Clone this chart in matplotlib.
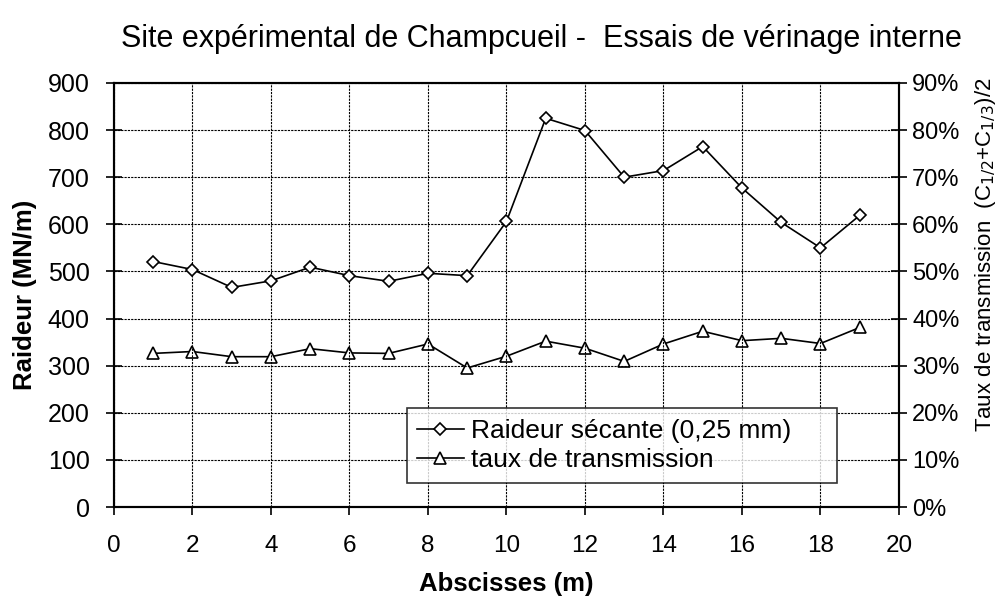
import matplotlib.pyplot as plt
from matplotlib.ticker import MultipleLocator, PercentFormatter

plt.rcParams['font.family'] = ['Liberation Sans', 'DejaVu Sans']

# Abscisses des points de mesure (m)
abscisses = [1, 2, 3, 4, 5, 6, 7, 8, 9, 10, 11, 12, 13, 14, 15, 16, 17, 18, 19]
# Raideur sécante à 0,25 mm (MN/m)
raideur = [521, 504, 466, 480, 509, 491, 479, 496, 491, 606,
           825, 799, 700, 714, 765, 677, 604, 550, 619]
# Taux de transmission (C1/2 + C1/3)/2, en %
transmission = [32.6, 33.0, 31.9, 31.9, 33.6, 32.7, 32.6, 34.6, 29.5, 32.0,
                35.2, 33.7, 30.9, 34.6, 37.3, 35.3, 35.8, 34.7, 38.1]

fig = plt.figure(figsize=(9.97, 6.01), dpi=100)
ax = fig.add_axes([0.1143, 0.1564, 0.7874, 0.7056])
ax2 = ax.twinx()

grid_style = dict(color='black', linestyle=(0, (2, 1)), linewidth=0.8)

l1, = ax.plot(abscisses, raideur, color='black', linewidth=1.2, marker='D',
              markersize=6.5, markerfacecolor='white', markeredgecolor='black',
              markeredgewidth=1.2, label='Raideur sécante (0,25 mm)', zorder=3)
l2, = ax2.plot(abscisses, transmission, color='black', linewidth=1.2, marker='^',
               markersize=9, markerfacecolor='white', markeredgecolor='black',
               markeredgewidth=1.2, label='taux de transmission', zorder=3)

ax.set_xlim(0, 20)
ax.set_ylim(0, 900)
ax2.set_ylim(0, 90)
ax.xaxis.set_major_locator(MultipleLocator(2))
ax.yaxis.set_major_locator(MultipleLocator(100))
ax2.yaxis.set_major_locator(MultipleLocator(10))
ax2.yaxis.set_major_formatter(PercentFormatter(decimals=0))

ax.grid(True, **grid_style)
ax.set_axisbelow(True)

for a in (ax, ax2):
    for s in a.spines.values():
        s.set_linewidth(1.5)
ax.tick_params(axis='x', direction='out', length=6, width=1.2, labelsize=17.5, pad=14)
ax.tick_params(axis='y', direction='inout', length=11, width=1.2, labelsize=18, pad=12)
ax2.tick_params(axis='y', direction='inout', length=11, width=1.2, labelsize=17, pad=4)

ax.set_xlabel('Abscisses (m)', fontsize=18.5, fontweight='bold', labelpad=11)
ax.set_ylabel('Raideur (MN/m)', fontsize=18.5, fontweight='bold', labelpad=8)
ax2.set_ylabel('Taux de transmission  (C$_{1/2}$+C$_{1/3}$)/2', fontsize=16)
ax2.yaxis.set_label_coords(1.094, 0.594)

fig.suptitle('Site expérimental de Champcueil -  Essais de vérinage interne',
             fontsize=22, x=0.543, y=0.96)

leg = ax.legend(handles=[l1, l2], loc='lower left',
                bbox_to_anchor=(0.373, 0.057, 0.548, 0.19), mode='expand',
                fontsize=19, frameon=True, fancybox=False, handlelength=1.75,
                handletextpad=0.3, borderpad=0.4, labelspacing=0.2,
                borderaxespad=0)
leg.get_frame().set_edgecolor('black')
leg.get_frame().set_linewidth(1.2)
leg.set_zorder(5)
ax.set_zorder(ax2.get_zorder() + 1)
ax.patch.set_visible(False)

fig.savefig('out.png', dpi=100)
